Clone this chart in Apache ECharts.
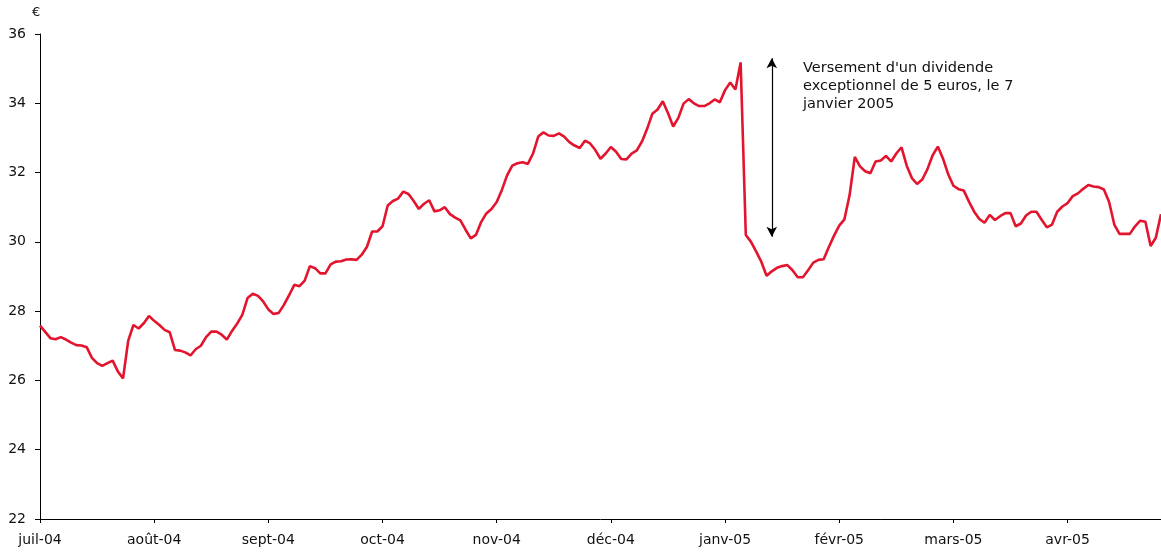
<!DOCTYPE html>
<html>
<head>
<meta charset="utf-8">
<script src="https://cdn.jsdelivr.net/npm/echarts@6/dist/echarts.min.js"></script>
<style>
  html, body { margin: 0; padding: 0; background: #fff; }
  #chart { width: 1161px; height: 553px; }
</style>
</head>
<body>
<div id="chart"></div>
<script>
// Month labels, one every 22 trading sessions
const monthLabels = ['juil-04', 'août-04', 'sept-04', 'oct-04', 'nov-04', 'déc-04',
                     'janv-05', 'févr-05', 'mars-05', 'avr-05'];
const sessionsPerLabel = 22;

// Daily closing price (€), July 2004 – April 2005
const prices = [
  27.58, 27.40, 27.22, 27.19, 27.25, 27.18, 27.09, 27.02, 27.01, 26.96,
  26.65, 26.50, 26.42, 26.50, 26.57, 26.26, 26.06, 27.15, 27.60, 27.50,
  27.65, 27.86, 27.72, 27.60, 27.46, 27.39, 26.88, 26.86, 26.81, 26.72,
  26.90, 27.00, 27.25, 27.41, 27.41, 27.32, 27.18, 27.43, 27.64, 27.90,
  28.38, 28.50, 28.44, 28.28, 28.05, 27.92, 27.95, 28.18, 28.46, 28.76,
  28.72, 28.88, 29.30, 29.24, 29.09, 29.09, 29.35, 29.43, 29.44, 29.49,
  29.50, 29.48, 29.63, 29.86, 30.30, 30.30, 30.45, 31.05, 31.18, 31.25,
  31.45, 31.38, 31.18, 30.95, 31.10, 31.20, 30.88, 30.91, 31.00, 30.80,
  30.70, 30.62, 30.35, 30.10, 30.20, 30.57, 30.82, 30.95, 31.15, 31.50,
  31.92, 32.20, 32.27, 32.30, 32.25, 32.55, 33.04, 33.16, 33.07, 33.06,
  33.13, 33.04, 32.88, 32.78, 32.71, 32.92, 32.84, 32.65, 32.40, 32.55,
  32.74, 32.60, 32.39, 32.38, 32.55, 32.64, 32.90, 33.27, 33.70, 33.82,
  34.06, 33.72, 33.33, 33.58, 33.99, 34.12, 34.00, 33.92, 33.92, 34.00,
  34.11, 34.03, 34.38, 34.60, 34.40, 35.18, 30.20, 30.00, 29.72, 29.42,
  29.02, 29.15, 29.25, 29.30, 29.33, 29.18, 28.98, 28.98, 29.18, 29.40,
  29.48, 29.50, 29.85, 30.18, 30.47, 30.65, 31.35, 32.45, 32.18, 32.04,
  31.98, 32.32, 32.35, 32.48, 32.32, 32.55, 32.73, 32.20, 31.84, 31.67,
  31.80, 32.10, 32.50, 32.75, 32.40, 31.95, 31.62, 31.52, 31.48, 31.16,
  30.87, 30.66, 30.55, 30.78, 30.63, 30.74, 30.83, 30.83, 30.45, 30.53,
  30.76, 30.87, 30.87, 30.64, 30.42, 30.50, 30.87, 31.02, 31.12, 31.32,
  31.40, 31.53, 31.64, 31.60, 31.58, 31.51, 31.15, 30.50, 30.23, 30.23,
  30.23, 30.45, 30.61, 30.58, 29.88, 30.12, 30.80
];

// Exceptional dividend: price just before and just after the ex-date
const dividendSession = 141;
const dividendFrom = 35.3;
const dividendTo = 30.15;
const dividendNote = "Versement d'un dividende\nexceptionnel de 5 euros, le 7\njanvier 2005";

const sessions = prices.map((_, i) => i);
const font = '"DejaVu Sans", Verdana, sans-serif';

const chart = echarts.init(document.getElementById('chart'), null, { renderer: 'canvas' });
chart.setOption({
  animation: false,
  backgroundColor: '#ffffff',
  grid: { left: 40, right: 0, top: 34, bottom: 34, containLabel: false },
  xAxis: {
    type: 'category',
    data: sessions,
    boundaryGap: false,
    axisLine: { lineStyle: { color: '#000', width: 1 } },
    axisTick: {
      show: true, length: 4, inside: false,
      interval: (i) => i % sessionsPerLabel === 0,
      lineStyle: { color: '#000' }
    },
    axisLabel: {
      interval: (i) => i % sessionsPerLabel === 0,
      formatter: (v, i) => monthLabels[Math.round(i / sessionsPerLabel)] || '',
      color: '#111', fontFamily: font, fontSize: 14, margin: 14
    },
    splitLine: { show: false }
  },
  yAxis: {
    type: 'value',
    min: 22, max: 36, interval: 2,
    axisLine: { show: true, lineStyle: { color: '#000', width: 1 } },
    axisTick: { show: true, length: 5, lineStyle: { color: '#000' } },
    axisLabel: { color: '#111', fontFamily: font, fontSize: 14, margin: 14 },
    splitLine: { show: false }
  },
  graphic: [
    {
      type: 'text', left: 32, top: 6,
      style: { text: '€', fill: '#111', font: '13px ' + font }
    },
    {
      type: 'text', left: 803, top: 59,
      style: { text: dividendNote, fill: '#111', font: '14.5px ' + font, lineHeight: 18 }
    }
  ],
  series: [{
    type: 'line',
    data: prices,
    showSymbol: false,
    lineStyle: { color: '#e3142e', width: 2.6 },
    markLine: {
      silent: true,
      symbol: ['arrow', 'arrow'],
      symbolSize: [8, 10],
      label: { show: false },
      lineStyle: { color: '#000', width: 1.2, type: 'solid' },
      data: [[
        { coord: [dividendSession, dividendFrom] },
        { coord: [dividendSession, dividendTo] }
      ]]
    }
  }]
});
</script>
</body>
</html>
